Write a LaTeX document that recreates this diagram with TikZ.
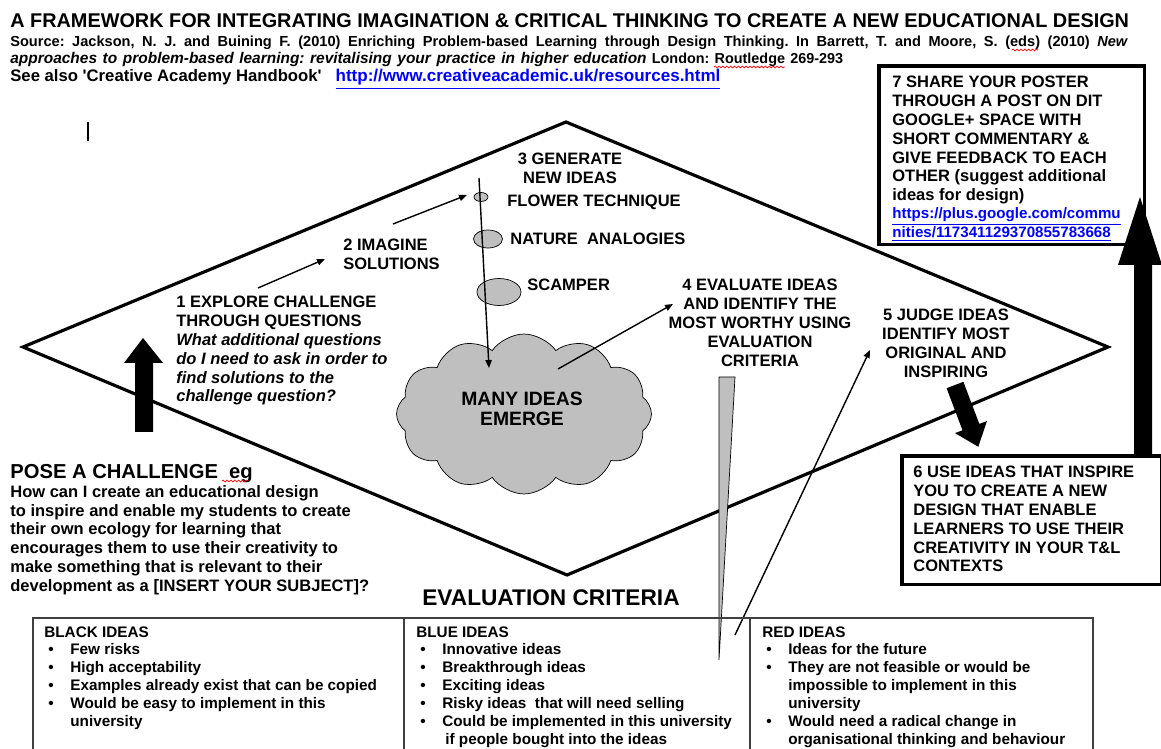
\documentclass[tikz,border=0pt]{standalone}
\usepackage{fontspec}
\setmainfont{Liberation Sans}
\usepackage{tikz}
\usetikzlibrary{
  arrows.meta,              % 箭头样式
  shapes.geometric,         % 椭圆
  shapes.symbols,           % 云朵
  decorations.pathmorphing, % 拼写检查波浪线
  positioning               % 节点相对定位
}
\frenchspacing
\newcommand{\critbul}{\hspace*{0.08cm}\makebox[0.44cm][l]{\textbullet}}
\newcommand{\critind}{\hspace*{0.52cm}}
\tikzset{
  stage edge/.style={
    line width=1.8pt,
    line join=miter
  },
  flow arrow/.style={
    -{Triangle[length=4.5pt,width=3.6pt]},
    line width=0.8pt
  },
  idea blob/.style={
    draw,
    fill=gray!50,
    line width=0.4pt
  },
  frame box/.style={
    draw,
    line width=2pt,
    inner sep=0pt
  },
  source line/.style={
    font=\bfseries\fontsize{8.3}{9.6}\selectfont,
    inner sep=0pt,
    anchor=base west
  },
  step label/.style={
    font=\bfseries\fontsize{9.4}{10.7}\selectfont,
    inner sep=0pt,
    align=left,
    anchor=north west
  },
  step center/.style={
    step label,
    align=center,
    anchor=north
  },
  crit text/.style={
    font=\bfseries\fontsize{8.7}{10.2}\selectfont,
    inner sep=0pt,
    align=left,
    anchor=north west
  },
  table line/.style={
    draw=black!75,
    line width=0.6pt
  },
  spell mark/.style={
    red,
    line width=0.4pt,
    decorate,
    decoration={snake, amplitude=0.5pt, segment length=2.2pt}
  }
}

\begin{document}
\begin{tikzpicture}[x=0.02cm, y=-0.02cm]
  \useasboundingbox (0,0) rectangle (1161,749);

  % 1. 标题与出处
  \node[font=\bfseries\fontsize{11.3}{12}\selectfont, inner sep=0pt, anchor=base west]
    (title) at (10,28) {A FRAMEWORK FOR INTEGRATING IMAGINATION \& CRITICAL THINKING TO CREATE A NEW EDUCATIONAL DESIGN};
  \node[source line] (source1) at (10,47) {\makebox[22.36cm][s]{Source: Jackson, N. J. and Buining F. (2010) Enriching Problem-based Learning through Design Thinking. In Barrett, T. and Moore, S. (eds) (2010) \textit{New}}};
  \node[source line, font=\bfseries\fontsize{8.2}{9.6}\selectfont] (source2) at (10,64) {\makebox[16.66cm][s]{{\fontsize{8.8}{10}\selectfont\itshape approaches to problem-based learning: revitalising your practice in higher education} London: Routledge 269-293}};
  \node[source line, font=\bfseries\fontsize{9.5}{10}\selectfont] (source3) at (10,82) {See also \textquotesingle Creative Academy Handbook\textquotesingle\hspace{0.28cm}{\fontsize{9.7}{10}\selectfont\textcolor{blue}{\underline{http://www.creativeacademic.uk/resources.html}}}};
  \draw[spell mark] (1012,50) -- (1038,50);
  \draw[spell mark] (714,67) -- (785,67);

  % 光标
  \draw[line width=1.1pt] (88,122) -- (88,141);

  % 2. 菱形
  \coordinate (dmW) at (23,347);
  \coordinate (dmN) at (566,122);
  \coordinate (dmE) at (1108,347);
  \coordinate (dmS) at (567,575);
  \draw[stage edge] (dmW) -- (dmN) -- (dmE) -- (dmS) -- cycle;

  % 3. 左侧粗箭头
  \fill (135,432) -- (135,363) -- (124,363) -- (143,338) -- (163,363) -- (153,363) -- (153,432) -- cycle;

  % 4. 云朵与三种技巧
  \node[idea blob, cloud, cloud puffs=12, cloud puff arc=110, cloud ignores aspect,
        minimum width=5.1cm, minimum height=3.2cm] (cloud) at (524,414) {};
  \node[font=\bfseries\fontsize{11}{11.4}\selectfont, inner sep=0pt, align=center] (many) at (522,409) {MANY IDEAS\\EMERGE};
  \node[idea blob, ellipse, inner sep=0pt, minimum width=0.28cm, minimum height=0.18cm] (flower) at (481,197) {};
  \node[idea blob, ellipse, inner sep=0pt, minimum width=0.58cm, minimum height=0.36cm] (nature) at (488,239) {};
  \node[idea blob, ellipse, inner sep=0pt, minimum width=0.88cm, minimum height=0.54cm] (scamper) at (499,292) {};

  % 5. 各步骤文字
  \node[step label] (explore) at (176,296) {1 EXPLORE CHALLENGE\\THROUGH QUESTIONS\\
    \textit{What additional questions}\\\textit{do I need to ask in order to}\\
    \textit{find solutions to the}\\\textit{challenge question?}};
  \node[step label] (imagine) at (343,239) {2 IMAGINE\\SOLUTIONS};
  \node[step center] (generate) at (570,153) {3 GENERATE\\NEW IDEAS};
  \node[step label, anchor=west] (flowerlbl) at (507,202) {FLOWER TECHNIQUE};
  \node[step label, anchor=west] (naturelbl) at (510,239) {NATURE\ \ ANALOGIES};
  \node[step label, anchor=west] (scamperlbl) at (527,285) {SCAMPER};
  \node[step center] (evaluate) at (760,279) {4 EVALUATE IDEAS\\AND IDENTIFY THE\\MOST WORTHY USING\\EVALUATION\\CRITERIA};
  \node[step center] (judge) at (946,309) {5 JUDGE IDEAS\\IDENTIFY MOST\\ORIGINAL AND\\INSPIRING};

  % 指向评价标准的灰色楔形
  \filldraw[fill=gray!50, line width=0.4pt] (719,377) -- (735,377) -- (719,660) -- cycle;

  % 6. 细箭头
  \coordinate (a1) at (258,288);
  \coordinate (a2) at (325,259);
  \coordinate (b1) at (393,224);
  \coordinate (b2) at (467,195);
  \coordinate (c1) at (479,178);
  \coordinate (c2) at (489,368);
  \coordinate (d1) at (558,369);
  \coordinate (d2) at (673,304);
  \coordinate (e1) at (735,635);
  \coordinate (e2) at (870,350);
  \draw[flow arrow] (a1) -- (a2);
  \draw[flow arrow] (b1) -- (b2);
  \draw[flow arrow] (c1) -- (c2);
  \draw[flow arrow] (d1) -- (d2);
  \draw[flow arrow] (e1) -- (e2);

  % 5 -> 6 粗箭头
  \fill (946.6,388.2) -- (963.4,381.8) -- (979.3,423.9) -- (986.9,421.1) -- (978.3,446.8)
    -- (955.0,433.1) -- (962.5,430.3) -- cycle;

  % 7. 提出挑战
  \node[font=\bfseries\fontsize{11.5}{12}\selectfont, inner sep=0pt, anchor=north west]
    (pose) at (10,464) {POSE A CHALLENGE\ \ eg};
  \draw[spell mark] (222,481) -- (248,481);
  \node[step label] (posetext) at (10,485) {How can I create an educational design\\
    to inspire and enable my students to create\\their own ecology for learning that\\
    encourages them to use their creativity to\\make something that is relevant to their\\
    development as a [INSERT YOUR SUBJECT]?};

  % 8. 方框 6 与 7
  \node[frame box, minimum width=5.2cm, minimum height=2.58cm, anchor=north west] (box6) at (900,454) {};
  \node[step label] (box6text) at ([shift={(13,12)}]box6.north west) {6 USE IDEAS THAT INSPIRE\\
    YOU TO CREATE A NEW\\DESIGN THAT ENABLE\\LEARNERS TO USE THEIR\\CREATIVITY IN YOUR T\&L\\CONTEXTS};
  \node[frame box, fill=white, minimum width=5.32cm, minimum height=3.58cm, anchor=north west] (box7) at (877,64) {};
  \node[step label] (box7text) at ([shift={(15,12)}]box7.north west) {7 SHARE YOUR POSTER\\
    THROUGH A POST ON DIT\\GOOGLE+ SPACE WITH\\SHORT COMMENTARY \&\\GIVE FEEDBACK TO EACH\\
    OTHER (suggest additional\\ideas for design)};
  \node[inner sep=0pt, align=left, anchor=north west, text=blue, font=\bfseries\fontsize{8.6}{8.8}\selectfont]
    (box7link) at ([yshift=-1.5pt]box7text.south west) {\underline{https://plus.google.com/commu}\\\underline{nities/117341129370855783668}};

  % 右侧竖直粗箭头 (6 -> 7)
  \fill (1134,454) -- (1134,265) -- (1118,265) -- (1140,197) -- (1162,265) -- (1152,265) -- (1152,454) -- cycle;

  % 9. 评价标准表
  \node[font=\bfseries\fontsize{12.9}{14}\selectfont, inner sep=0pt, anchor=west] (evalhead) at (422,598) {EVALUATION CRITERIA};
  \draw[table line] (33,749) -- (33,618) -- (1093,618) -- (1093,749);
  \draw[table line] (404,618) -- (404,749);
  \draw[table line] (750,618) -- (750,749);
  \node[crit text] (black) at (44,626) {BLACK IDEAS\\
    \critbul Few risks\\
    \critbul High acceptability\\
    \critbul Examples already exist that can be copied\\
    \critbul Would be easy to implement in this\\
    \critind university};
  \node[crit text] (blue) at (416,626) {BLUE IDEAS\\
    \critbul Innovative ideas\\
    \critbul Breakthrough ideas\\
    \critbul Exciting ideas\\
    \critbul Risky ideas\ \ that will need selling\\
    \critbul Could be implemented in this university\\
    \hspace*{0.58cm}if people bought into the ideas};
  \node[crit text] (red) at (762,626) {RED IDEAS\\
    \critbul Ideas for the future\\
    \critbul They are not feasible or would be\\
    \critind impossible to implement in this\\
    \critind university\\
    \critbul Would need a radical change in\\
    \critind organisational thinking and behaviour};
\end{tikzpicture}
\end{document}
